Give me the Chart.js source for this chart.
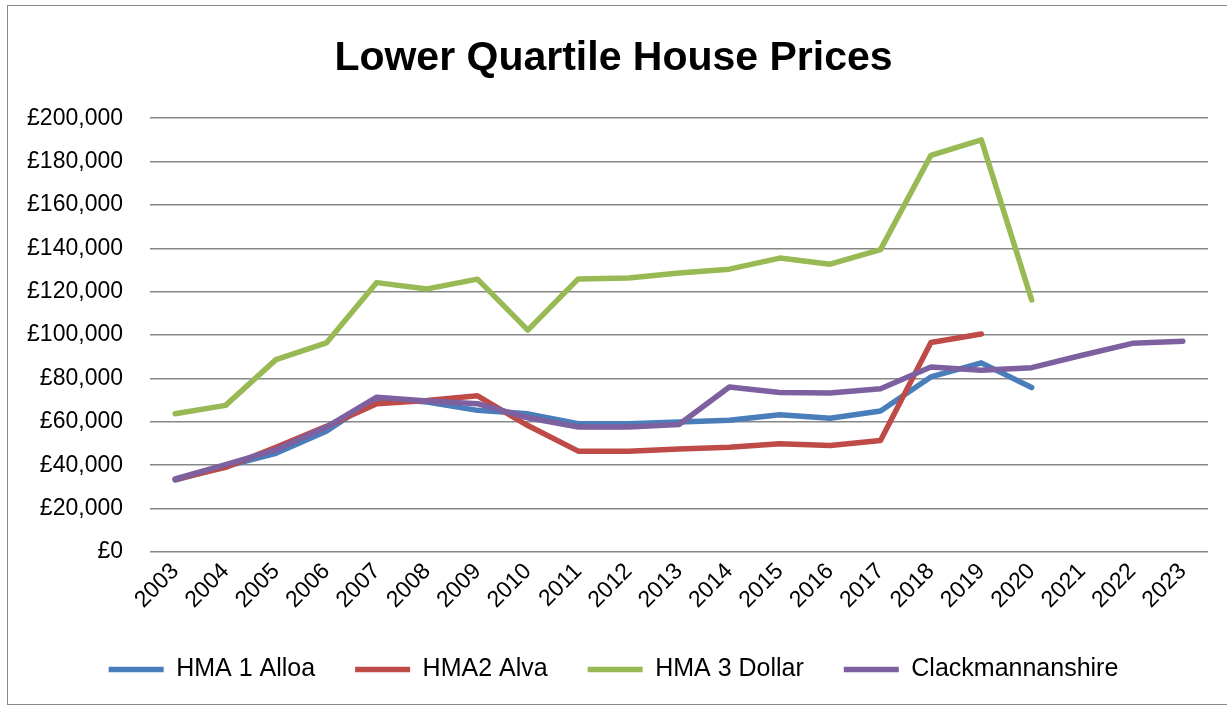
<!DOCTYPE html>
<html>
<head>
<meta charset="utf-8">
<title>Lower Quartile House Prices</title>
<script src="https://cdn.jsdelivr.net/npm/chart.js@4"></script>
<style>
  html, body { margin: 0; padding: 0; background: #fff; }
  #wrap { position: relative; width: 1227px; height: 706px; overflow: hidden; }
  #frame { position: absolute; left: 7px; top: 5px; width: 1240px; height: 698px; border: 1px solid #898989; pointer-events: none; }
</style>
</head>
<body>
<div id="wrap">
  <canvas id="lineChart" width="1227" height="706"></canvas>
  <div id="frame"></div>
</div>
<script>
// chart data
var years = ['2003', '2004', '2005', '2006', '2007', '2008', '2009', '2010', '2011', '2012', '2013',
    '2014', '2015', '2016', '2017', '2018', '2019', '2020', '2021', '2022', '2023'];
var hma1Alloa = [33200, 39500, 45500, 55700, 71000, 69100, 65300, 63700, 59100, 59100, 59900,
    60700, 63300, 61700, 65000, 80700, 87200, 75800, null, null, null];
var hma2Alva = [33500, 39000, 48300, 57900, 68400, 69800, 72000, 58300, 46500, 46500, 47500,
    48300, 49900, 49100, 51400, 96600, 100500, null, null, null, null];
var hma3Dollar = [63700, 67600, 88700, 96400, 124200, 121300, 125800, 102300, 125900, 126300, 128600,
    130400, 135500, 132700, 139400, 182900, 190000, 116200, null, null, null];
var clackmannanshire = [33700, 40300, 47100, 57600, 71400, 69600, 68400, 61900, 57600, 57600, 58800,
    76100, 73500, 73300, 75300, 85300, 83800, 85000, 90700, 96200, 97200];

var fontFamily = "'Liberation Sans', Arial, sans-serif";

function series(label, data, colour, order) {
    return {
        label: label,
        data: data,
        borderColor: colour,
        backgroundColor: colour,
        borderWidth: 5.5,
        pointRadius: 0,
        pointHoverRadius: 0,
        borderCapStyle: 'round',
        borderJoinStyle: 'round',
        tension: 0,
        spanGaps: false,
        order: order   // purple drawn on top, like the original
    };
}

var ctx = document.getElementById('lineChart').getContext('2d');
var chart = new Chart(ctx, {
    type: 'line',
    data: {
        labels: years,
        datasets: [
            series('HMA 1 Alloa', hma1Alloa, '#4a7ebb', 3),
            series('HMA2 Alva', hma2Alva, '#be4b48', 2),
            series('HMA 3 Dollar', hma3Dollar, '#98b954', 1),
            series('Clackmannanshire', clackmannanshire, '#7d60a0', 0)
        ]
    },
    options: {
        responsive: false,
        animation: false,
        layout: {
            padding: { left: 19, right: 19, top: 0, bottom: 14 }
        },
        plugins: {
            title: {
                display: true,
                text: 'Lower Quartile House Prices',
                color: '#000',
                font: { family: fontFamily, size: 41, weight: 'bold' },
                padding: { top: 34, bottom: 35 }
            },
            legend: {
                position: 'bottom',
                labels: {
                    color: '#000',
                    font: { family: fontFamily, size: 25 },
                    usePointStyle: true,
                    pointStyle: 'line',
                    pointStyleWidth: 55,
                    boxHeight: 5,
                    padding: 40,
                    sort: function (a, b) { return a.datasetIndex - b.datasetIndex; }
                }
            },
            tooltip: { enabled: false }
        },
        scales: {
            x: {
                offset: true,
                grid: { display: false, drawTicks: false },
                border: { display: false },
                ticks: {
                    color: '#000',
                    font: { family: fontFamily, size: 23 },
                    maxRotation: 45,
                    minRotation: 45,
                    autoSkip: false,
                    padding: 6
                },
                afterFit: function (scale) { scale.height = 65; }
            },
            y: {
                min: 0,
                max: 200000,
                grid: { color: '#878787', lineWidth: 1.6, drawTicks: false },
                border: { display: false },
                ticks: {
                    stepSize: 20000,
                    color: '#000',
                    font: { family: fontFamily, size: 23 },
                    padding: 27,
                    callback: function (v) { return '£' + v.toLocaleString('en-GB'); }
                },
                afterFit: function (scale) { scale.width = 131; }
            }
        }
    }
});
</script>
</body>
</html>
